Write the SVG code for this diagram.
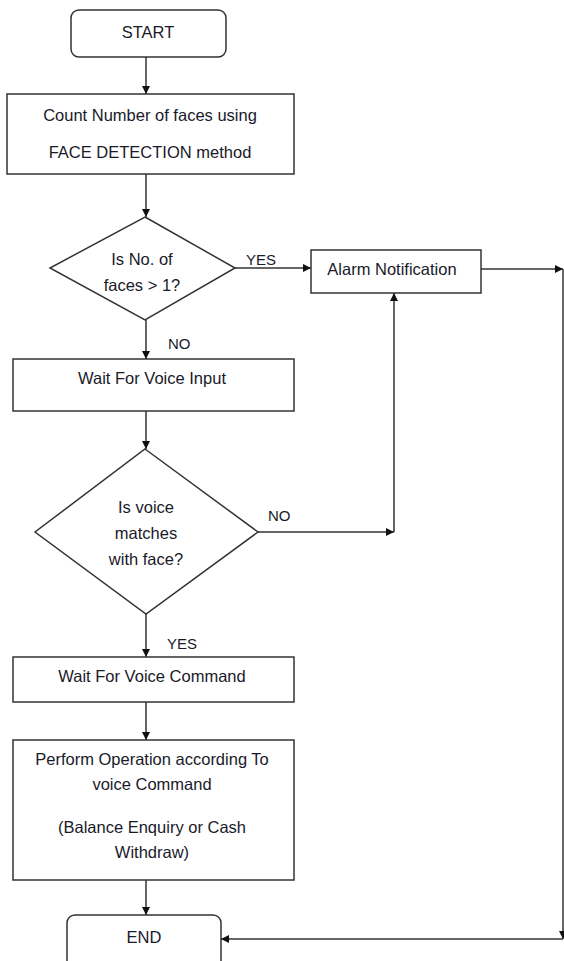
<svg xmlns="http://www.w3.org/2000/svg" width="564" height="961" viewBox="0 0 564 961">
<style>
.shape{fill:#fff;stroke:#333;stroke-width:1.5}
.conn{fill:none;stroke:#333;stroke-width:1.5}
text{font-family:"Liberation Sans",Arial,sans-serif;font-size:16.5px;fill:#1a1a2a}
.c{text-anchor:middle}
.lbl{font-size:15px}
</style>
<defs>
<marker id="arr" viewBox="0 0 10 10" refX="10" refY="5" markerWidth="9" markerHeight="8" markerUnits="userSpaceOnUse" orient="auto">
<path d="M0,0 L10,5 L0,10 z" fill="#111"/>
</marker>
</defs>
<rect width="564" height="961" fill="#fff"/>
<g id="connectors">
<path class="conn" d="M146,57 L146,94" marker-end="url(#arr)"/>
<path class="conn" d="M146,174 L146,217" marker-end="url(#arr)"/>
<path class="conn" d="M146,320 L146,359" marker-end="url(#arr)"/>
<path class="conn" d="M235,268 L311,268" marker-end="url(#arr)"/>
<path class="conn" d="M481,269 L563,269" marker-end="url(#arr)"/>
<path class="conn" d="M563,269 L563,939" marker-end="url(#arr)"/>
<path class="conn" d="M563,939 L221,939" marker-end="url(#arr)"/>
<path class="conn" d="M146,411 L146,449" marker-end="url(#arr)"/>
<path class="conn" d="M258,532 L394,532" marker-end="url(#arr)"/>
<path class="conn" d="M394,532 L394,293" marker-end="url(#arr)"/>
<path class="conn" d="M146,614 L146,657" marker-end="url(#arr)"/>
<path class="conn" d="M146,702 L146,740" marker-end="url(#arr)"/>
<path class="conn" d="M146,880 L146,915" marker-end="url(#arr)"/>
<text class="lbl" x="246" y="265">YES</text>
<text class="lbl" x="168" y="349">NO</text>
<text class="lbl" x="268" y="521">NO</text>
<text class="lbl" x="167" y="649">YES</text>
</g>
<g id="start">
<rect class="shape" x="71" y="10" width="155" height="47" rx="8"/>
<text class="c" x="148" y="38">START</text>
</g>
<g id="count">
<rect class="shape" x="7" y="94" width="287" height="80"/>
<text class="c" x="150" y="121">Count Number of faces using</text>
<text class="c" x="150" y="158">FACE DETECTION method</text>
</g>
<g id="decision1">
<polygon class="shape" points="145,217 235,268 145,320 50,268"/>
<text class="c" x="142" y="265">Is No. of</text>
<text class="c" x="142" y="291">faces &gt; 1?</text>
</g>
<g id="alarm">
<rect class="shape" x="311" y="250" width="170" height="43"/>
<text class="c" x="392" y="275">Alarm Notification</text>
</g>
<g id="waitInput">
<rect class="shape" x="13" y="359" width="281" height="52"/>
<text class="c" x="152" y="384">Wait For Voice Input</text>
</g>
<g id="decision2">
<polygon class="shape" points="145,449 258,532 146,614 35,532"/>
<text class="c" x="146" y="513">Is voice</text>
<text class="c" x="146" y="539">matches</text>
<text class="c" x="146" y="565">with face?</text>
</g>
<g id="waitCommand">
<rect class="shape" x="13" y="657" width="281" height="45"/>
<text class="c" x="152" y="682">Wait For Voice Command</text>
</g>
<g id="perform">
<rect class="shape" x="13" y="740" width="281" height="140"/>
<text class="c" x="152" y="765">Perform Operation according To</text>
<text class="c" x="152" y="790">voice Command</text>
<text class="c" x="152" y="833">(Balance Enquiry or Cash</text>
<text class="c" x="152" y="858">Withdraw)</text>
</g>
<g id="end">
<rect class="shape" x="67" y="915" width="154" height="60" rx="8"/>
<text class="c" x="144" y="943">END</text>
</g>
</svg>
